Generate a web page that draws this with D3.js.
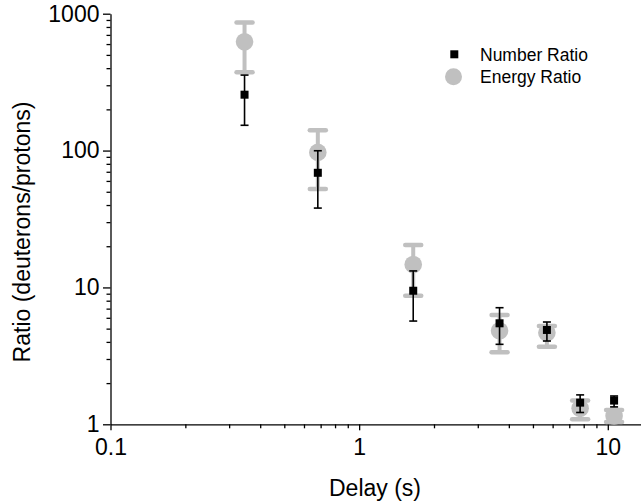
<!DOCTYPE html>
<html>
<head>
<meta charset="utf-8">
<script src="https://cdn.jsdelivr.net/npm/d3@7"></script>
<style>
  html, body { margin: 0; padding: 0; background: #fff; }
  svg { display: block; font-family: "Liberation Sans", Arial, sans-serif; }
</style>
</head>
<body>
<svg id="chart" width="641" height="503"></svg>
<script>
// Delay (s) for each measurement
const delay = [0.346, 0.682, 1.65, 3.67, 5.69, 7.74, 10.6];

// Number ratio (deuterons/protons) with error bounds
const numberRatio = [256, 68.8, 9.46, 5.47, 4.89, 1.44, 1.49];
const numberHi    = [356, 99.7, 13.2, 7.11, 5.59, 1.64, 1.61];
const numberLo    = [153, 38.0, 5.68, 3.84, 4.06, 1.22, 1.34];

// Energy ratio (deuterons/protons) with error bounds
const energyRatio = [623, 97.0, 14.7, 4.83, 4.67, 1.31, 1.15];
const energyHi    = [864, 141, 20.4, 6.29, 5.23, 1.49, 1.27];
const energyLo    = [373, 52.3, 8.7, 3.36, 3.69, 1.09, 1.04];

// Axis ticks
const xTicks = [0.1, 1, 10];
const xTickLabels = ["0.1", "1", "10"];
const yTicks = [1, 10, 100, 1000];
const yTickLabels = ["1", "10", "100", "1000"];
const xDomain = [0.1, 13.6];
const yDomain = [1, 1000];

const seriesNames = ["Number Ratio", "Energy Ratio"];

const svg = d3.select("#chart");
const plotLeft = 110.5, plotTop = 13.7, plotRight = 641, plotBottom = 424.3;
const w = plotRight - plotLeft, h = plotBottom - plotTop;

const x = d3.scaleLog().domain(xDomain).range([0, w]);
const y = d3.scaleLog().domain(yDomain).range([h, 0]);

const g = svg.append("g").attr("transform", `translate(${plotLeft},${plotTop})`);

const black = "#000";
const grey = "#c0c0c0";
const fontSize = 23;

// minor tick values per decade
function minors(domain) {
  const out = [];
  for (let p = Math.floor(Math.log10(domain[0])); p <= Math.ceil(Math.log10(domain[1])); p++) {
    for (let k = 2; k <= 9; k++) {
      const v = k * Math.pow(10, p);
      if (v > domain[0] && v < domain[1]) out.push(v);
    }
  }
  return out;
}

// X axis: minor then major
const xMinor = g.append("g").attr("transform", `translate(0,${h})`)
  .call(d3.axisBottom(x).tickValues(minors(xDomain)).tickSize(4).tickFormat(""));
xMinor.select(".domain").remove();
const xAxis = g.append("g").attr("transform", `translate(0,${h})`)
  .call(d3.axisBottom(x).tickValues(xTicks).tickSize(6).tickSizeOuter(0).tickPadding(8.5)
    .tickFormat((d, i) => xTickLabels[i]));

// Y axis: minor then major
const yMinor = g.append("g")
  .call(d3.axisLeft(y).tickValues(minors(yDomain)).tickSize(4).tickFormat(""));
yMinor.select(".domain").remove();
const yAxis = g.append("g")
  .call(d3.axisLeft(y).tickValues(yTicks).tickSize(7.5).tickSizeOuter(0).tickPadding(3.5)
    .tickFormat((d, i) => yTickLabels[i]));

g.selectAll(".domain, .tick line").attr("stroke", black).attr("stroke-width", 1.3);
g.selectAll(".tick text").attr("fill", black).style("font-size", fontSize + "px")
  .style("font-family", '"Liberation Sans", Arial, sans-serif');

// Axis titles
svg.append("text")
  .attr("x", 375).attr("y", 496)
  .attr("text-anchor", "middle")
  .style("font-size", fontSize + "px")
  .text("Delay (s)");
svg.append("text")
  .attr("transform", "translate(30,232) rotate(-90)")
  .attr("text-anchor", "middle")
  .style("font-size", fontSize + "px")
  .text("Ratio (deuterons/protons)");

const idx = d3.range(delay.length);

// Energy ratio error bars (grey, thick, drawn underneath)
const eg = g.append("g");
eg.selectAll("line.stem").data(idx).join("line")
  .attr("x1", i => x(delay[i])).attr("x2", i => x(delay[i]))
  .attr("y1", i => y(energyHi[i])).attr("y2", i => y(energyLo[i]))
  .attr("stroke", grey).attr("stroke-width", 4);
[energyHi, energyLo].forEach(arr => {
  eg.append("g").selectAll("line").data(idx).join("line")
    .attr("x1", i => x(delay[i]) - 8).attr("x2", i => x(delay[i]) + 8)
    .attr("y1", i => y(arr[i])).attr("y2", i => y(arr[i]))
    .attr("stroke", grey).attr("stroke-width", 4.5).attr("stroke-linecap", "round");
});
eg.append("g").selectAll("circle").data(idx).join("circle")
  .attr("cx", i => x(delay[i])).attr("cy", i => y(energyRatio[i]))
  .attr("r", 8.8).attr("fill", grey);

// Number ratio error bars (black, thin, on top)
const ng = g.append("g");
ng.append("g").selectAll("line").data(idx).join("line")
  .attr("x1", i => x(delay[i])).attr("x2", i => x(delay[i]))
  .attr("y1", i => y(numberHi[i])).attr("y2", i => y(numberLo[i]))
  .attr("stroke", black).attr("stroke-width", 1.6);
[numberHi, numberLo].forEach(arr => {
  ng.append("g").selectAll("line").data(idx).join("line")
    .attr("x1", i => x(delay[i]) - 4).attr("x2", i => x(delay[i]) + 4)
    .attr("y1", i => y(arr[i])).attr("y2", i => y(arr[i]))
    .attr("stroke", black).attr("stroke-width", 1.6);
});
const sq = 8;
ng.append("g").selectAll("rect").data(idx).join("rect")
  .attr("x", i => x(delay[i]) - sq / 2).attr("y", i => y(numberRatio[i]) - sq / 2)
  .attr("width", sq).attr("height", sq).attr("fill", black);

// Legend
const lg = svg.append("g");
lg.append("rect").attr("x", 454.3 - sq / 2).attr("y", 54.3 - sq / 2)
  .attr("width", sq).attr("height", sq).attr("fill", black);
lg.append("circle").attr("cx", 453.5).attr("cy", 76.7).attr("r", 8.5).attr("fill", grey);
lg.selectAll("text").data(seriesNames).join("text")
  .attr("x", 480).attr("y", (d, i) => [60.7, 83.3][i])
  .style("font-size", "17.5px")
  .text(d => d);
</script>
</body>
</html>
